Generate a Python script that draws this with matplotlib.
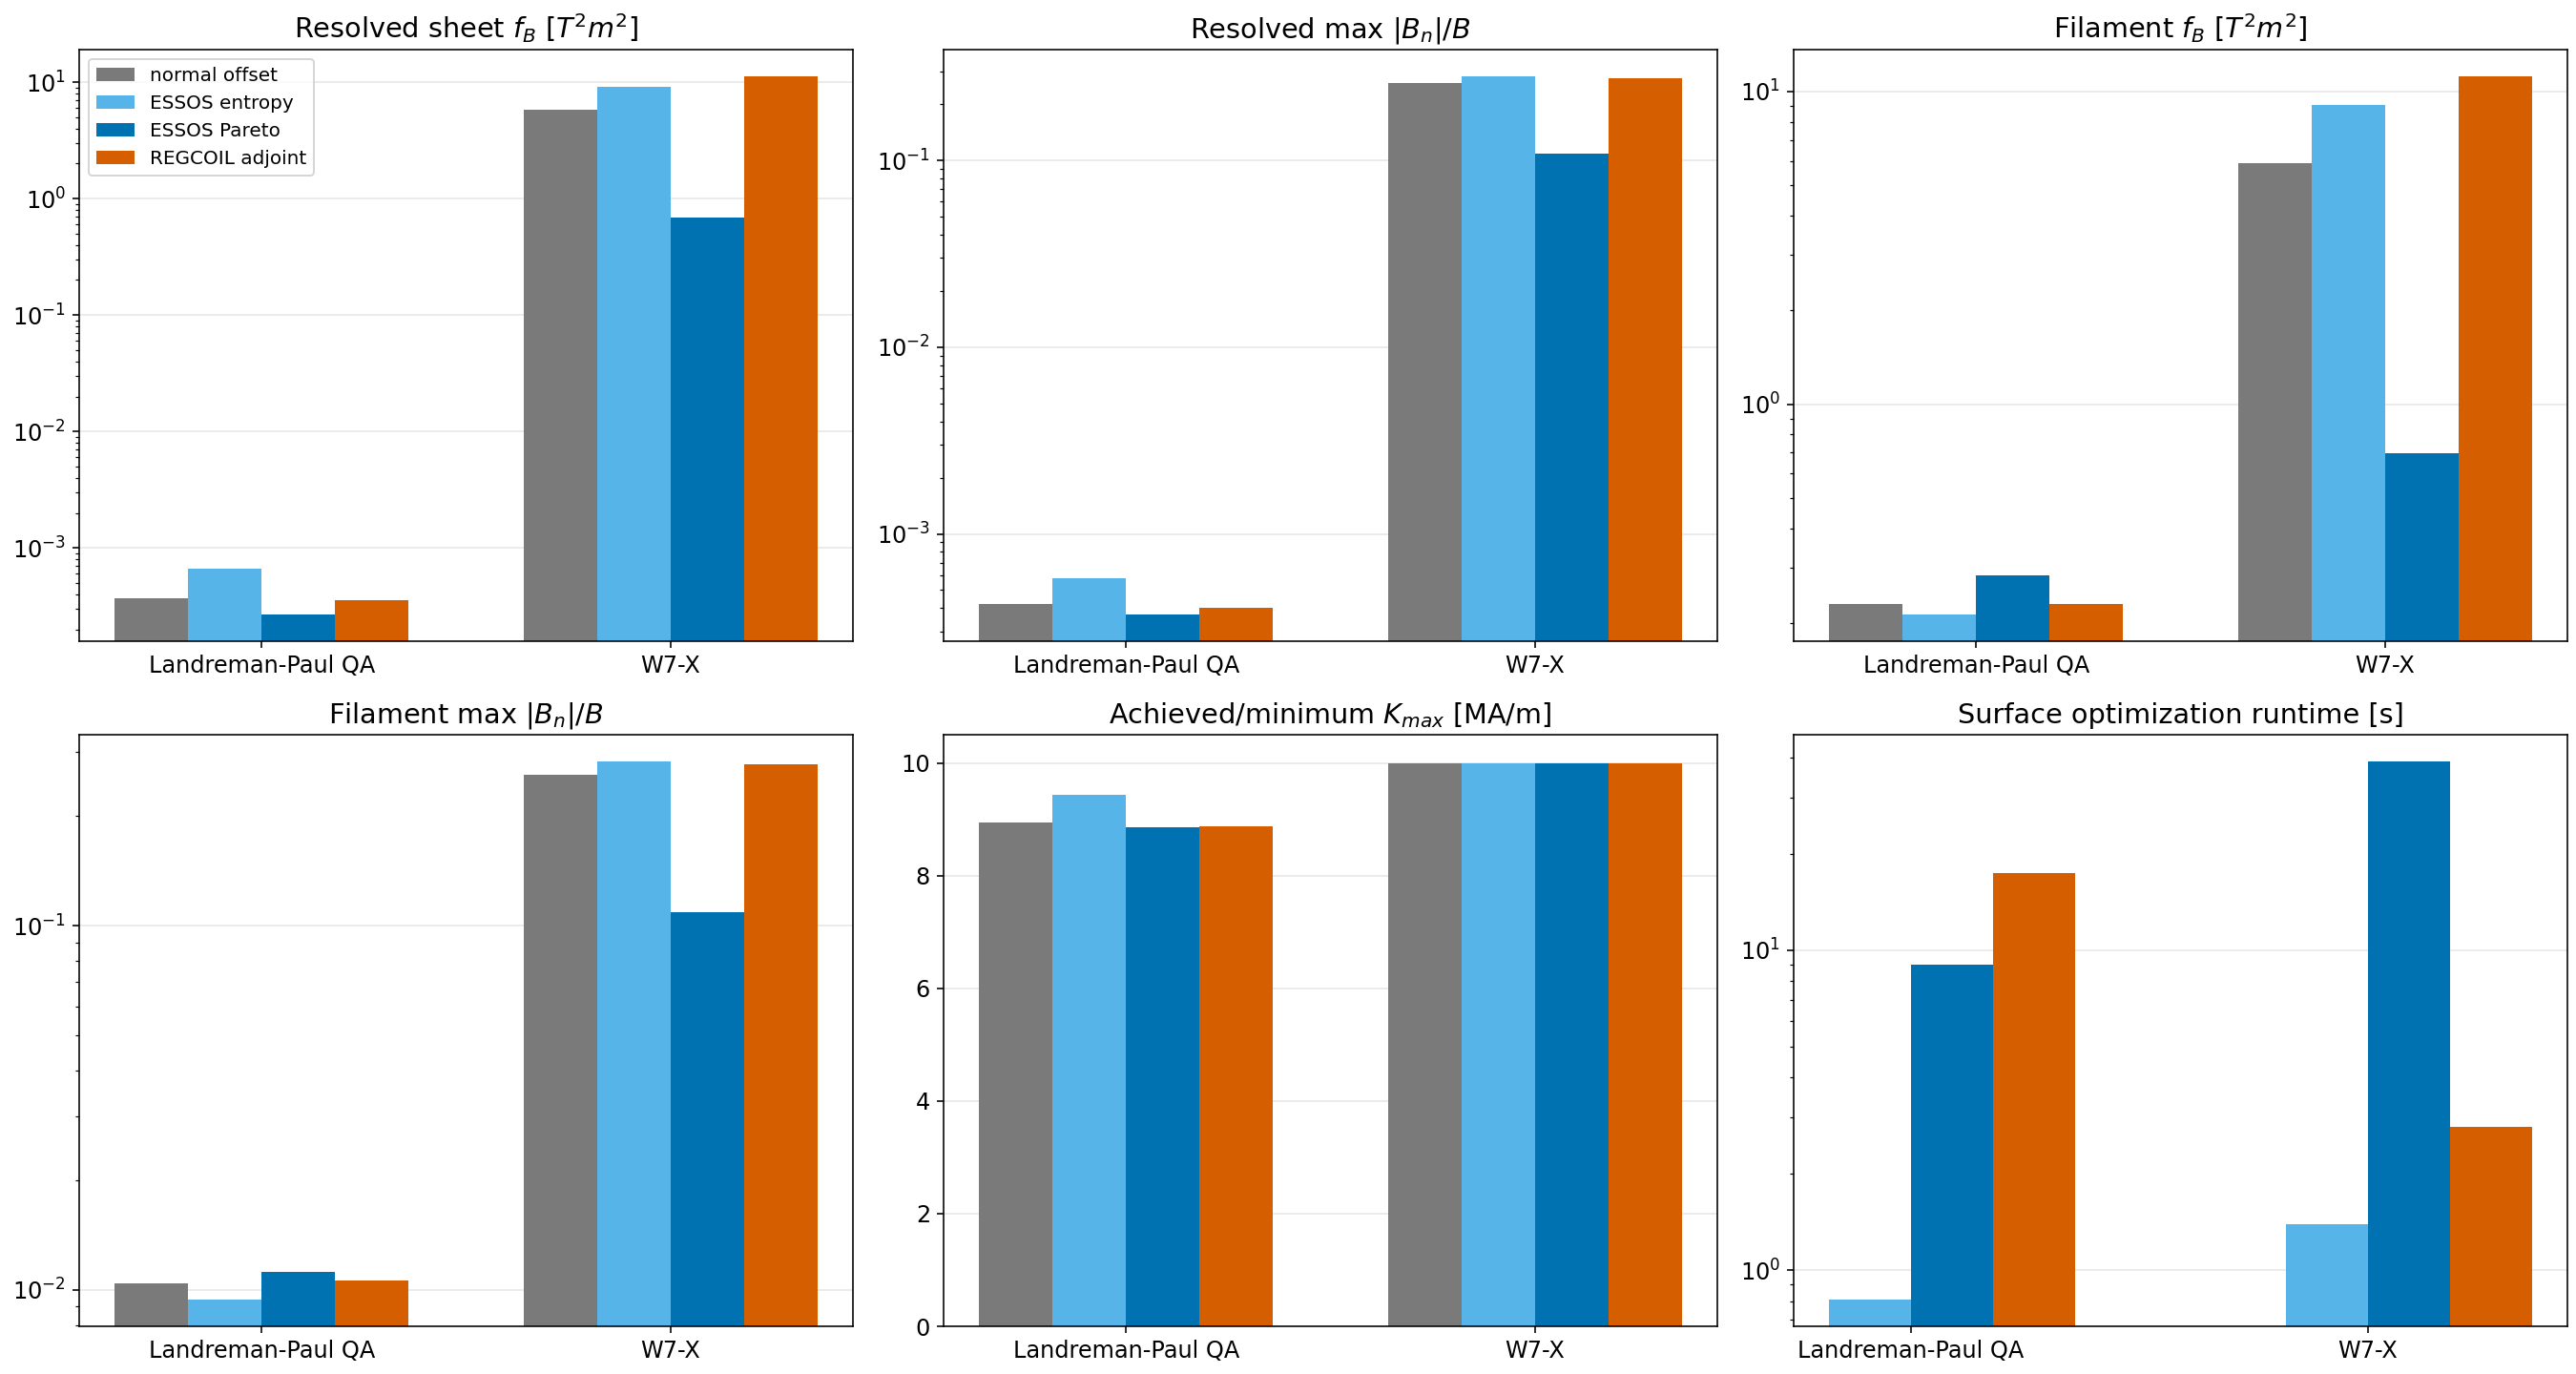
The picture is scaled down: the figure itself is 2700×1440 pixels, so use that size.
import numpy as np
import matplotlib
matplotlib.use("Agg")
import matplotlib.pyplot as plt

plt.rcParams['font.size'] = 12

cases = ["Landreman-Paul QA", "W7-X"]
methods = ["normal offset", "ESSOS entropy", "ESSOS Pareto", "REGCOIL adjoint"]
colors = ["#7a7a7a", "#56b4e9", "#0072b2", "#d55e00"]

# values[method] = [LP QA, W7-X]
sheet_fB = {
    "normal offset": [3.7e-4, 5.84],
    "ESSOS entropy": [6.7e-4, 9.04],
    "ESSOS Pareto": [2.7e-4, 0.69],
    "REGCOIL adjoint": [3.6e-4, 11.16],
}
sheet_maxBn = {
    "normal offset": [4.23e-4, 0.258],
    "ESSOS entropy": [5.80e-4, 0.281],
    "ESSOS Pareto": [3.71e-4, 0.109],
    "REGCOIL adjoint": [4.01e-4, 0.276],
}
fil_fB = {
    "normal offset": [0.230, 5.89],
    "ESSOS entropy": [0.213, 9.02],
    "ESSOS Pareto": [0.284, 0.698],
    "REGCOIL adjoint": [0.230, 11.16],
}
fil_maxBn = {
    "normal offset": [0.01043, 0.2595],
    "ESSOS entropy": [0.00942, 0.282],
    "ESSOS Pareto": [0.01124, 0.109],
    "REGCOIL adjoint": [0.01064, 0.277],
}
kmax = {
    "normal offset": [8.94, 10.0],
    "ESSOS entropy": [9.44, 10.0],
    "ESSOS Pareto": [8.85, 10.0],
    "REGCOIL adjoint": [8.87, 10.0],
}
runtime = {
    "normal offset": [np.nan, np.nan],
    "ESSOS entropy": [0.810, 1.395],
    "ESSOS Pareto": [8.99, 38.9],
    "REGCOIL adjoint": [17.44, 2.81],
}

panels = [
    (r"Resolved sheet $f_B$ [$T^2 m^2$]", sheet_fB, True),
    (r"Resolved max $|B_n|/B$", sheet_maxBn, True),
    (r"Filament $f_B$ [$T^2 m^2$]", fil_fB, True),
    (r"Filament max $|B_n|/B$", fil_maxBn, True),
    (r"Achieved/minimum $K_{max}$ [MA/m]", kmax, False),
    (r"Surface optimization runtime [s]", runtime, True),
]

W, H = 2700.0, 1440.0
col_left = [83, 989, 1880]
col_w = 811
row_top = [52, 770]
row_h = 620

fig, axes = plt.subplots(2, 3, figsize=(18.75, 10), dpi=144)
for r in range(2):
    for c in range(3):
        axes[r, c].set_position([col_left[c] / W, 1 - (row_top[r] + row_h) / H,
                                 col_w / W, row_h / H])

x = np.arange(len(cases))
w = 0.18
for i, (ax, (title, data, logy)) in enumerate(zip(axes.flat, panels)):
    for j, m in enumerate(methods):
        ax.bar(x + (j - 1.5) * w, data[m], w, color=colors[j], label=m)
    if logy:
        ax.set_yscale("log")
    ax.set_xticks(x)
    ax.set_xticklabels(cases)
    ax.set_title(title)
    ax.grid(axis="y", which="major", alpha=0.3)
    ax.set_axisbelow(True)
    if i == 0:
        ax.legend(loc="upper left", fontsize=10)

fig.savefig("out.png", dpi=144)
